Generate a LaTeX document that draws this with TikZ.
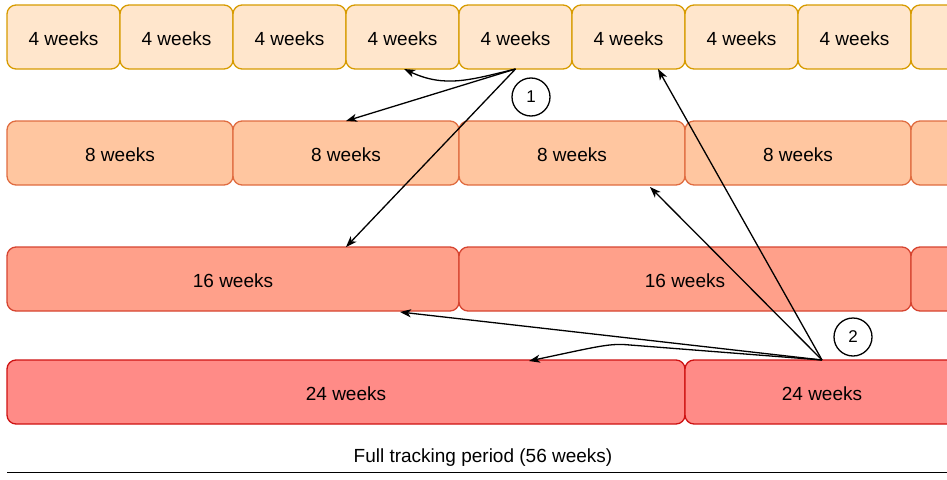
\documentclass[tikz,border=0pt]{standalone}
\usepackage{fontspec}
\setmainfont{Liberation Sans}
\usetikzlibrary{arrows.meta}
\definecolor{f4}{RGB}{255,230,204}
\definecolor{s4}{RGB}{215,155,0}
\definecolor{f8}{RGB}{255,198,160}
\definecolor{s8}{RGB}{224,108,64}
\definecolor{f16}{RGB}{255,160,138}
\definecolor{s16}{RGB}{214,68,48}
\definecolor{f24}{RGB}{255,139,135}
\definecolor{s24}{RGB}{206,18,18}
\tikzset{
  lbltext/.style={font=\fontsize{19}{22}\selectfont, text height=16.5pt, text depth=0pt},
  period/.style={draw, rounded corners=9pt, line width=1.3pt, minimum height=64pt, inner sep=0pt, outer sep=0pt, lbltext},
  wk4/.style={period, fill=f4, draw=s4, minimum width=113pt},
  wk8/.style={period, fill=f8, draw=s8, minimum width=226pt},
  wk16/.style={period, fill=f16, draw=s16, minimum width=452pt},
  wk24/.style={period, fill=f24, draw=s24, minimum width=678pt},
  link/.style={-{Stealth[length=11pt,width=8pt,inset=3pt]}, line width=1.3pt, black},
  marker/.style={draw, circle, line width=1.3pt, minimum size=38pt, inner sep=0pt, font=\fontsize{17}{20}\selectfont},
}
\begin{document}
\begin{tikzpicture}[x=1pt,y=-1pt]
\useasboundingbox (0,0) rectangle (947,479);
\begin{scope}
\clip (0,0) rectangle (947,479);
% 4-week row
\foreach \i in {0,...,7} {
  \node[wk4] (a\i) at ({7+113*\i+56.5},37) {4 weeks};
}
\node[wk4] (a8) at ({7+113*8+56.5},37) {};
% 8-week row
\foreach \i in {0,...,3} {
  \node[wk8] (b\i) at ({7+226*\i+113},153) {8 weeks};
}
\node[wk8] (b4) at ({7+226*4+113},153) {};
% 16-week row
\foreach \i in {0,...,1} {
  \node[wk16] (c\i) at ({7+452*\i+226},279) {16 weeks};
}
\node[wk16] (c2) at ({7+452*2+226},279) {};
% 24-week row
\node[wk24] (d0) at ({7+339},392) {24 weeks};
\node[wk24] (d1) at ({685+339},392) {};
\end{scope}
\node[lbltext, inner sep=0pt] (d1text) at (822,392) {24 weeks};

\coordinate (o1) at (515.5,69);
\coordinate (o2) at (822,360);
\coordinate (t1a) at (404,69);
\coordinate (t1b) at (346,121);
\coordinate (t1c) at (346,247);
\coordinate (t2a) at (658,69);
\coordinate (t2b) at (650,187);
\coordinate (t2c) at (400,312);
\coordinate (t2d) at (529,361);

\draw[link] (o1) .. controls (470,80) and (445,88) .. (t1a);
\draw[link] (o1) -- (t1b);
\draw[link] (o1) -- (t1c);
\draw[link] (o2) -- (t2a);
\draw[link] (o2) -- (t2b);
\draw[link] (o2) -- (t2c);
\draw[link] (o2) -- (630,345) .. controls (610,343) and (600,346) .. (t2d);

\node[marker] (m1) at (531,97) {1};
\node[marker] (m2) at (853,337) {2};

\node[font=\fontsize{19}{22}\selectfont] (lbl) at (483,458) {Full tracking period (56 weeks)};
\coordinate (ls) at (7,472.5);
\coordinate (le) at (947,472.5);
\draw[line width=1.6pt] (ls) -- (le);
\end{tikzpicture}
\end{document}
